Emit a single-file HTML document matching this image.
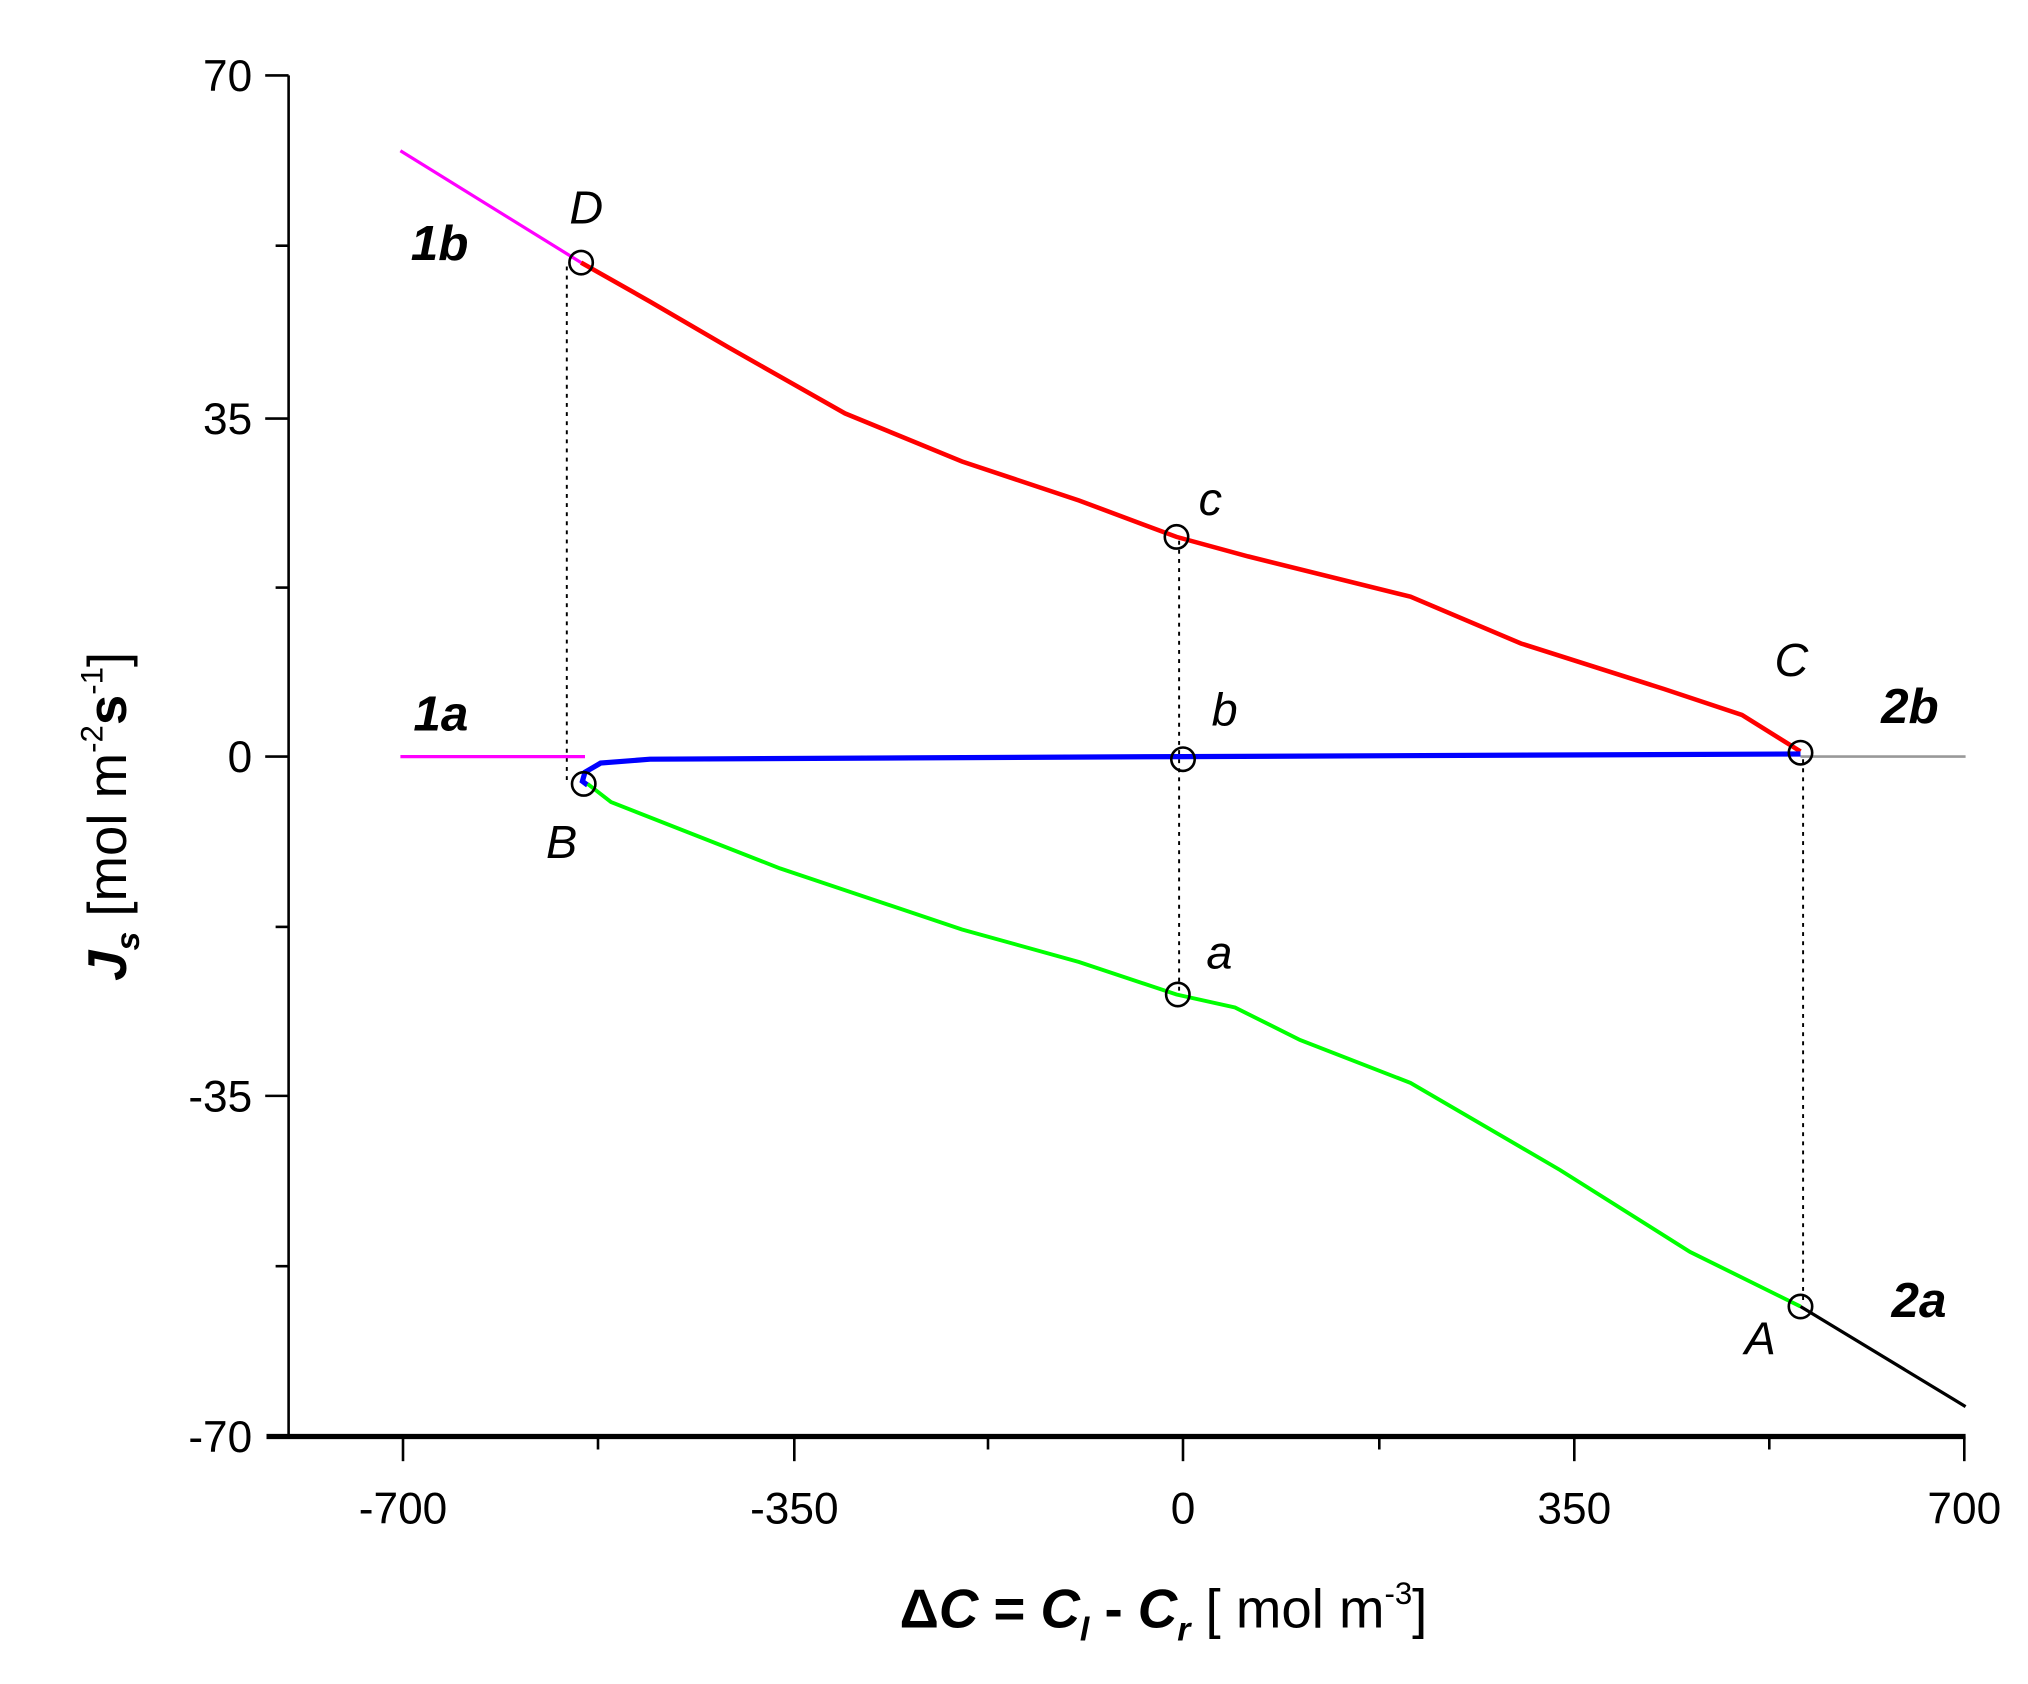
<!DOCTYPE html>
<html><head><meta charset="utf-8"><style>html,body{margin:0;padding:0;background:#fff}svg{display:block}</style></head><body>
<svg width="2028" height="1684" viewBox="0 0 1560 1295.4" xmlns="http://www.w3.org/2000/svg" font-family="Liberation Sans, Arial, sans-serif">
<rect width="1560" height="1296" fill="#fff"/>
<!-- axes -->
<line x1="222" y1="58" x2="222" y2="1106" stroke="#000" stroke-width="2"/>
<line x1="205" y1="1105" x2="1512" y2="1105" stroke="#000" stroke-width="4"/>
<g stroke="#000" stroke-width="2">
<line x1="204" y1="58" x2="222" y2="58"/><line x1="212" y1="189" x2="222" y2="189"/>
<line x1="204" y1="322" x2="222" y2="322"/><line x1="212" y1="452" x2="222" y2="452"/>
<line x1="204" y1="582" x2="222" y2="582"/><line x1="212" y1="713" x2="222" y2="713"/>
<line x1="204" y1="843" x2="222" y2="843"/><line x1="212" y1="974" x2="222" y2="974"/>
<line x1="310" y1="1105" x2="310" y2="1124"/><line x1="460" y1="1105" x2="460" y2="1115"/>
<line x1="611" y1="1105" x2="611" y2="1124"/><line x1="760" y1="1105" x2="760" y2="1115"/>
<line x1="910" y1="1105" x2="910" y2="1124"/><line x1="1061" y1="1105" x2="1061" y2="1115"/>
<line x1="1211" y1="1105" x2="1211" y2="1124"/><line x1="1361" y1="1105" x2="1361" y2="1115"/>
<line x1="1511" y1="1105" x2="1511" y2="1124"/>
</g>
<g font-size="34" text-anchor="end" fill="#000">
<text x="194" y="70">70</text><text x="194" y="334">35</text><text x="194" y="594">0</text>
<text x="194" y="855">-35</text><text x="194" y="1117">-70</text>
</g>
<g font-size="34" text-anchor="middle" fill="#000">
<text x="310" y="1172">-700</text><text x="611" y="1172">-350</text><text x="910" y="1172">0</text>
<text x="1211" y="1172">350</text><text x="1511" y="1172">700</text>
</g>
<!-- grey zero line -->
<line x1="1385" y1="582" x2="1512" y2="582" stroke="#999" stroke-width="2"/>
<!-- dashed -->
<g stroke="#000" stroke-width="1.5" stroke-dasharray="3,4">
<line x1="436" y1="205" x2="436" y2="600"/>
<line x1="907" y1="416" x2="907" y2="762"/>
<line x1="1387" y1="584" x2="1387" y2="1002"/>
</g>
<!-- curves -->
<polyline fill="none" stroke="#ff00ff" stroke-width="2.5" points="308,116 447,202"/>
<polyline fill="none" stroke="#ff00ff" stroke-width="2.5" points="308,582 450,582"/>
<polyline fill="none" stroke="#ff0000" stroke-width="3.5" points="447,202 500,232 560,267 650,318 740,355 830,385 905,413 960,428 1085,459 1170,495 1280,530 1340,550 1385,578"/>
<polyline fill="none" stroke="#0000ff" stroke-width="4" points="1385,580 910,582 700,583 500,584 462,587 450,594 448,601 452,604"/>
<polyline fill="none" stroke="#00ff00" stroke-width="3" points="452,603 470,617 600,668 740,715 830,740 905,765 950,775 1000,800 1085,833 1200,900 1300,963 1385,1005"/>
<polyline fill="none" stroke="#000" stroke-width="2.5" points="1385,1005 1512,1082"/>
<!-- circles -->
<g fill="none" stroke="#000" stroke-width="2">
<circle cx="447" cy="202" r="9"/><circle cx="905" cy="413" r="9"/><circle cx="910" cy="584" r="9"/>
<circle cx="449" cy="603" r="9"/><circle cx="1385" cy="579" r="9"/><circle cx="906" cy="765" r="9"/>
<circle cx="1385" cy="1005" r="9"/>
</g>
<!-- labels -->
<g font-size="36" font-style="italic" fill="#000">
<text x="438" y="172">D</text><text x="922" y="396">c</text><text x="1365" y="520">C</text>
<text x="932" y="558">b</text><text x="420" y="660">B</text><text x="928" y="745">a</text>
<text x="1342" y="1042">A</text>
</g>
<g font-size="38" font-style="italic" font-weight="bold" fill="#000">
<text x="316" y="200">1b</text><text x="318" y="562">1a</text>
<text x="1447" y="556">2b</text><text x="1455" y="1013">2a</text>
</g>
<!-- axis titles -->
<text x="895" y="1252" font-size="42" text-anchor="middle" fill="#000"><tspan font-weight="bold">Δ</tspan><tspan font-weight="bold" font-style="italic">C</tspan><tspan font-weight="bold"> = </tspan><tspan font-weight="bold" font-style="italic">C</tspan><tspan font-weight="bold" font-style="italic" font-size="26" dy="10">l</tspan><tspan font-weight="bold" dy="-10"> - </tspan><tspan font-weight="bold" font-style="italic">C</tspan><tspan font-weight="bold" font-style="italic" font-size="26" dy="10">r</tspan><tspan dy="-10"> [ mol m</tspan><tspan font-size="24" dy="-18">-3</tspan><tspan dy="18">]</tspan></text>
<text transform="translate(97,628) rotate(-90)" font-size="42" text-anchor="middle" fill="#000"><tspan font-weight="bold" font-style="italic">J</tspan><tspan font-weight="bold" font-style="italic" font-size="26" dy="10">s</tspan><tspan dy="-10">  [mol m</tspan><tspan font-size="24" dy="-18">-2</tspan><tspan font-weight="bold" dy="18">s</tspan><tspan font-size="24" dy="-18">-1</tspan><tspan dy="18">]</tspan></text>
</svg>
</body></html>
